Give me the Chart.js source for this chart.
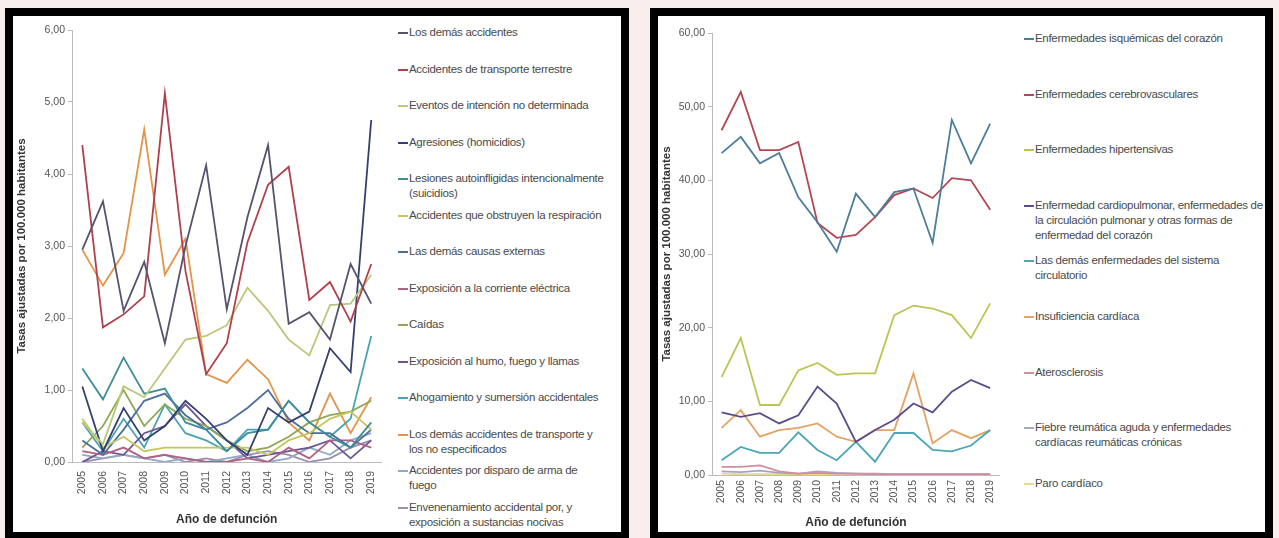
<!DOCTYPE html>
<html>
<head>
<meta charset="utf-8">
<script src="https://cdn.jsdelivr.net/npm/chart.js"></script>
<style>
  html, body { margin: 0; padding: 0; }
  body { width: 1279px; height: 538px; background: #f8eeee; position: relative; overflow: hidden;
         font-family: "Liberation Sans", Arial, sans-serif; }
  .box { position: absolute; background: #fff; border: 8px solid #000; box-sizing: border-box; }
  .cv { position: absolute; }
  .legend { position: absolute; }
  .item { position: absolute; left: 0; font-size: 11.5px; letter-spacing: -0.3px; line-height: 15px; color: #4a4a4a; }
  .item span.mk { position: absolute; left: 0; top: 7px; width: 10px; height: 2px; }
  .item div.tx { margin-left: 11px; }
</style>
</head>
<body>
<div class="box" style="left:5px; top:8px; width:624px; height:532px;"></div>
<div class="box" style="left:650px; top:8px; width:623px; height:532px;"></div>
<canvas id="izq" class="cv" style="left:13px; top:16px;" width="380" height="515"></canvas>
<canvas id="der" class="cv" style="left:658px; top:16px;" width="350" height="514"></canvas>
<div id="legIzq" class="legend" style="left:398px; top:0; width:208px;"></div>
<div id="legDer" class="legend" style="left:1024px; top:0; width:244px;"></div>
<script>
const years = ['2005', '2006', '2007', '2008', '2009', '2010', '2011', '2012', '2013', '2014', '2015', '2016', '2017', '2018', '2019'];

// causas externas (tasas por 100.000)
const causasExternas = [
  'Los demás accidentes',
  'Accidentes de transporte terrestre',
  'Eventos de intención no determinada',
  'Agresiones (homicidios)',
  'Lesiones autoinfligidas intencionalmente (suicidios)',
  'Accidentes que obstruyen la respiración',
  'Las demás causas externas',
  'Exposición a la corriente eléctrica',
  'Caídas',
  'Exposición al humo, fuego y llamas',
  'Ahogamiento y sumersión accidentales',
  'Los demás accidentes de transporte y los no especificados',
  'Accidentes por disparo de arma de fuego',
  'Envenenamiento accidental por, y exposición a sustancias nocivas'
];
const demasAccidentes   = [2.95, 3.62, 2.10, 2.78, 1.65, 3.00, 4.12, 2.12, 3.40, 4.40, 1.92, 2.08, 1.70, 2.75, 2.20];
const transporteTerr    = [4.40, 1.87, 2.05, 2.30, 5.12, 2.65, 1.22, 1.65, 3.05, 3.85, 4.10, 2.25, 2.50, 1.95, 2.75];
const intencionNoDet    = [0.55, 0.25, 1.05, 0.90, 1.30, 1.70, 1.75, 1.90, 2.42, 2.10, 1.70, 1.48, 2.18, 2.20, 2.60];
const agresiones        = [1.05, 0.15, 0.75, 0.30, 0.50, 0.85, 0.60, 0.30, 0.10, 0.75, 0.55, 0.70, 1.58, 1.25, 4.75];
const suicidios         = [1.30, 0.87, 1.45, 0.95, 1.02, 0.55, 0.45, 0.15, 0.40, 0.45, 0.85, 0.55, 0.35, 0.20, 0.55];
const obstruyenResp     = [0.60, 0.20, 0.35, 0.15, 0.20, 0.20, 0.20, 0.20, 0.20, 0.10, 0.30, 0.40, 0.60, 0.70, 0.45];
const demasCausas       = [0.30, 0.10, 0.45, 0.85, 0.95, 0.65, 0.45, 0.55, 0.75, 1.00, 0.60, 0.40, 0.40, 0.20, 0.45];
const corrienteElec     = [0.15, 0.10, 0.20, 0.05, 0.10, 0.05, 0.00, 0.00, 0.05, 0.00, 0.20, 0.05, 0.30, 0.30, 0.20];
const caidas            = [0.20, 0.50, 1.00, 0.50, 0.80, 0.60, 0.50, 0.30, 0.15, 0.20, 0.35, 0.55, 0.65, 0.70, 0.85];
const humoFuego         = [0.00, 0.15, 0.10, 0.40, 0.50, 0.80, 0.50, 0.30, 0.05, 0.10, 0.15, 0.20, 0.30, 0.05, 0.30];
const ahogamiento       = [0.55, 0.15, 0.60, 0.20, 0.80, 0.40, 0.30, 0.15, 0.45, 0.45, 0.85, 0.55, 0.35, 0.60, 1.75];
const demasTransporte   = [2.95, 2.45, 2.90, 4.62, 2.60, 3.10, 1.22, 1.10, 1.42, 1.15, 0.55, 0.30, 0.95, 0.40, 0.90];
const disparoArma       = [0.10, 0.05, 0.10, 0.05, 0.00, 0.05, 0.00, 0.05, 0.10, 0.00, 0.05, 0.20, 0.10, 0.30, 0.40];
const envenenamiento    = [0.00, 0.05, 0.10, 0.05, 0.10, 0.00, 0.05, 0.00, 0.10, 0.15, 0.10, 0.00, 0.05, 0.20, 0.30];

// enfermedades del sistema circulatorio
const circulatorio = [
  'Enfermedades isquémicas del corazón',
  'Enfermedades cerebrovasculares',
  'Enfermedades hipertensivas',
  'Enfermedad cardiopulmonar, enfermedades de la circulación pulmonar y otras formas de enfermedad del corazón',
  'Las demás enfermedades del sistema circulatorio',
  'Insuficiencia cardíaca',
  'Aterosclerosis',
  'Fiebre reumática aguda y enfermedades cardíacas reumáticas crónicas',
  'Paro cardíaco'
];
const isquemicas       = [43.7, 45.9, 42.3, 43.7, 37.7, 34.3, 30.3, 38.2, 35.0, 38.4, 38.9, 31.5, 48.2, 42.3, 47.7];
const cerebrovasc      = [46.8, 52.0, 44.1, 44.1, 45.2, 34.2, 32.2, 32.6, 35.0, 38.0, 38.9, 37.6, 40.3, 40.0, 36.0];
const hipertensivas    = [13.3, 18.6, 9.5, 9.5, 14.2, 15.2, 13.6, 13.8, 13.8, 21.7, 23.0, 22.6, 21.7, 18.6, 23.3];
const cardiopulmonar   = [8.5, 7.9, 8.4, 7.0, 8.1, 12.0, 9.7, 4.5, 6.1, 7.5, 9.7, 8.5, 11.3, 12.9, 11.8];
const demasCirculat    = [2.0, 3.8, 3.0, 3.0, 5.8, 3.4, 2.0, 4.5, 1.8, 5.7, 5.7, 3.4, 3.2, 4.0, 6.1];
const insuficiencia    = [6.4, 8.8, 5.2, 6.1, 6.4, 7.0, 5.2, 4.5, 6.1, 6.1, 13.8, 4.3, 6.1, 5.0, 6.1];
const aterosclerosis   = [1.1, 1.1, 1.3, 0.5, 0.2, 0.3, 0.2, 0.2, 0.2, 0.1, 0.1, 0.1, 0.1, 0.1, 0.1];
const fiebreReumatica  = [0.5, 0.4, 0.6, 0.3, 0.2, 0.5, 0.3, 0.2, 0.1, 0.1, 0.1, 0.1, 0.1, 0.1, 0.1];
const paroCardiaco     = [0.2, 0.1, 0.1, 0.1, 0.1, 0.1, 0.1, 0.1, 0.0, 0.0, 0.0, 0.0, 0.0, 0.0, 0.0];

const izqValues = [demasAccidentes, transporteTerr, intencionNoDet, agresiones, suicidios, obstruyenResp, demasCausas,
  corrienteElec, caidas, humoFuego, ahogamiento, demasTransporte, disparoArma, envenenamiento];
const izqColors = ['#55536e', '#b0404c', '#b9c77a', '#34406e', '#3e8e99', '#c4c85c', '#4e6e9e',
  '#b06080', '#8fa855', '#6b5592', '#4aa2b6', '#e39448', '#93a9c9', '#9a8fb2'];

const derValues = [isquemicas, cerebrovasc, hipertensivas, cardiopulmonar, demasCirculat, insuficiencia,
  aterosclerosis, fiebreReumatica, paroCardiaco];
const derColors = ['#4c7d9c', '#b4474f', '#bcc552', '#5a4b8c', '#4aa7b7', '#e2a364', '#d48da0', '#a0a6c6', '#e8d98e'];

Chart.defaults.font.family = '"Liberation Sans", Arial, sans-serif';
Chart.defaults.color = '#555';

function fmt(v) { return v.toFixed(2).replace('.', ','); }

function makeChart(id, names, values, colors, opt) {
  return new Chart(id, {
    type: 'line',
    data: {
      labels: years,
      datasets: names.map((n, i) => ({
        label: n,
        data: values[i],
        borderColor: colors[i],
        backgroundColor: colors[i],
        borderWidth: 1.8,
        pointRadius: 0,
        tension: 0,
        fill: false
      }))
    },
    options: {
      responsive: false,
      animation: false,
      layout: { padding: { top: opt.padTop, right: opt.padRight, left: 2 } },
      plugins: { legend: { display: false }, tooltip: { enabled: false } },
      scales: {
        x: {
          offset: true,
          afterFit: s => { s.height = opt.xHeight; },
          grid: { drawOnChartArea: false, drawTicks: false, color: '#bbb' },
          border: { color: '#bbb' },
          ticks: { minRotation: 90, maxRotation: 90, padding: opt.xPad, font: { size: 10.5 }, color: '#555' },
          title: { display: true, text: 'Año de defunción', font: { size: 12, weight: 'bold' }, color: '#333', padding: { top: 0, bottom: opt.titlePad } }
        },
        y: {
          min: 0, max: opt.max,
          afterFit: s => { s.width = opt.yWidth; },
          grid: { drawOnChartArea: false, tickLength: 4, color: '#bbb' },
          border: { color: '#bbb' },
          ticks: { stepSize: opt.step, callback: v => fmt(v), font: { size: 10.5 }, color: '#555', padding: 3 },
          title: { display: true, text: 'Tasas ajustadas por 100.000 habitantes', font: { size: 11.5, weight: 'bold' }, color: '#333', padding: 0 }
        }
      }
    }
  });
}

makeChart('izq', causasExternas, izqValues, izqColors, { max: 6, step: 1, padTop: 14, padRight: 5, xHeight: 69, yWidth: 57, xPad: 9, titlePad: 4 });
makeChart('der', circulatorio, derValues, derColors, { max: 60, step: 10, padTop: 17, padRight: 6, xHeight: 55, yWidth: 52, xPad: 5, titlePad: 0 });

function buildLegend(elId, names, colors, firstTop, pitch) {
  const el = document.getElementById(elId);
  names.forEach((n, i) => {
    const it = document.createElement('div');
    it.className = 'item';
    it.style.top = (firstTop + i * pitch) + 'px';
    const mk = document.createElement('span');
    mk.className = 'mk';
    mk.style.background = colors[i];
    const tx = document.createElement('div');
    tx.className = 'tx';
    tx.textContent = n;
    it.appendChild(mk);
    it.appendChild(tx);
    el.appendChild(it);
  });
}
buildLegend('legIzq', causasExternas, izqColors, 25, 36.5);
buildLegend('legDer', circulatorio, derColors, 31, 55.6);
</script>
</body>
</html>
